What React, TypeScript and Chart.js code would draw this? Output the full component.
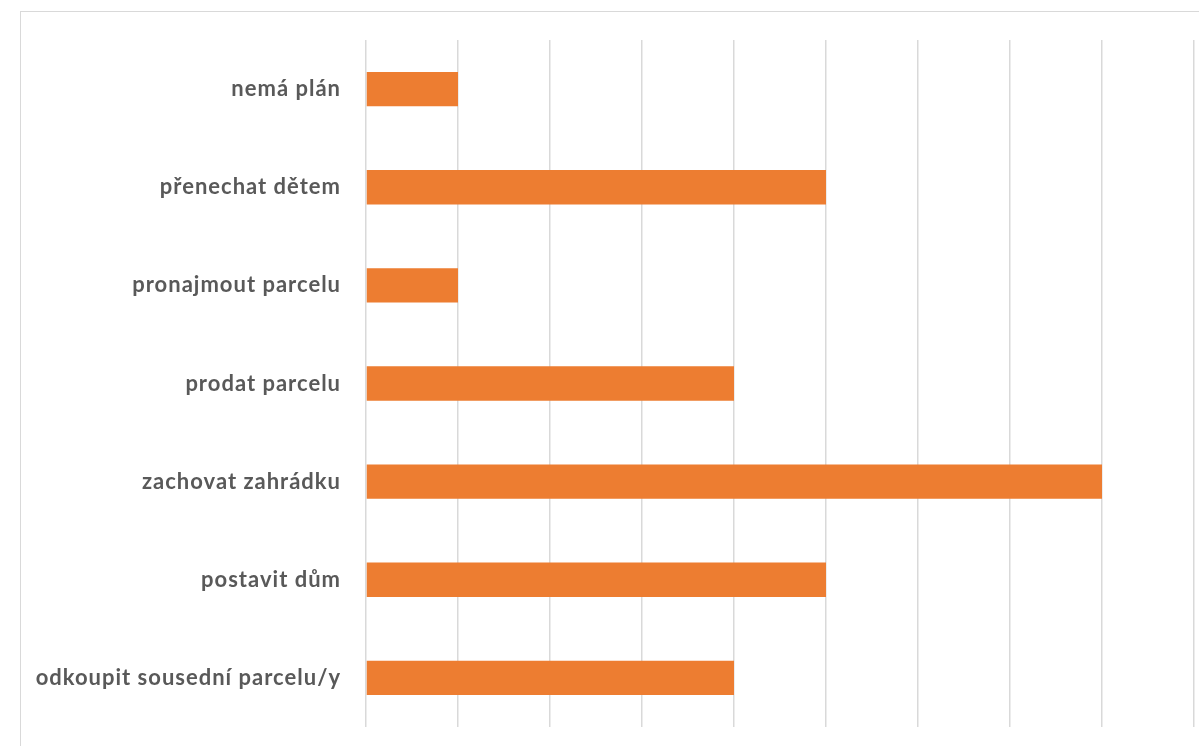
import React, { useEffect, useRef } from "react";
import { Chart, registerables } from "chart.js";

Chart.register(...registerables);

const categories = [
  "nemá plán",
  "přenechat dětem",
  "pronajmout parcelu",
  "prodat parcelu",
  "zachovat zahrádku",
  "postavit dům",
  "odkoupit sousední parcelu/y",
];
const values = [1, 5, 1, 4, 8, 5, 4];

const spacingPlugin = {
  id: "spacing",
  beforeDraw(chart: any) {
    try {
      chart.ctx.letterSpacing = "1px";
    } catch (e) {}
  },
};

export default function App() {
  const ref = useRef<HTMLCanvasElement | null>(null);
  useEffect(() => {
    if (!ref.current) return;
    const chart = new Chart(ref.current, {
      type: "bar",
      data: {
        labels: categories,
        datasets: [
          {
            data: values,
            backgroundColor: "#ED7D31",
            borderWidth: 0,
            barPercentage: 0.35,
            categoryPercentage: 1,
          },
        ],
      },
      plugins: [spacingPlugin],
      options: {
        indexAxis: "y",
        animation: false,
        responsive: false,
        maintainAspectRatio: false,
        layout: { padding: { top: 40, bottom: 19, left: 0, right: 5 } },
        plugins: { legend: { display: false }, tooltip: { enabled: false } },
        scales: {
          x: {
            min: 0,
            max: 9,
            ticks: { display: false, stepSize: 1 },
            border: { display: false },
            grid: { color: "#d9d9d9", lineWidth: 1.5, drawTicks: false },
            afterFit: (scale: any) => {
              scale.height = 0;
              scale.paddingLeft = 0;
              scale.paddingRight = 0;
            },
          },
          y: {
            border: { display: false },
            grid: { display: false, drawTicks: false },
            ticks: {
              padding: 25,
              color: "#595959",
              font: { family: "Lato", size: 22, weight: "bold" },
            },
            afterFit: (scale: any) => {
              scale.width = 366;
              scale.paddingTop = 0;
              scale.paddingBottom = 0;
            },
          },
        },
      },
    });
    return () => chart.destroy();
  }, []);
  return (
    <div style={{ position: "absolute", left: 0, top: 0, width: 1199, height: 746, background: "#fff", overflow: "hidden" }}>
      <div
        style={{
          position: "absolute",
          left: 20,
          top: 11,
          width: 1200,
          height: 760,
          border: "1.5px solid #d9d9d9",
          boxSizing: "border-box",
        }}
      />
      <canvas ref={ref} width={1199} height={746} style={{ position: "absolute", left: 0, top: 0 }} />
    </div>
  );
}
